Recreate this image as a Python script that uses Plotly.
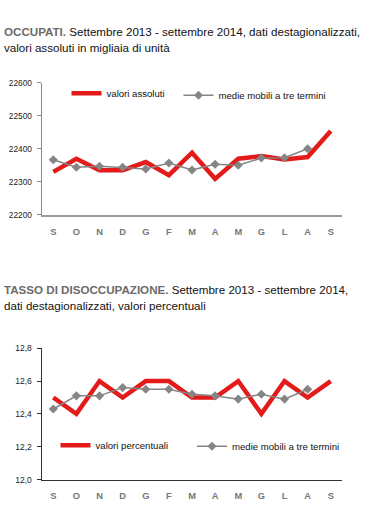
import plotly.graph_objects as go

W, H = 368, 515

months = ["S", "O", "N", "D", "G", "F", "M", "A", "M", "G", "L", "A", "S"]
idx = list(range(len(months)))

# Occupati (migliaia)
occ_valori = [22330, 22370, 22335, 22335, 22360, 22320, 22388, 22309, 22370, 22378, 22368, 22375, 22454]
occ_medie = [22367, 22344, 22347, 22344, 22339, 22357, 22336, 22353, 22350, 22372, 22373, 22400]
occ_ticks = [22200, 22300, 22400, 22500, 22600]
occ_ticktext = ["22200", "22300", "22400", "22500", "22600"]

# Tasso di disoccupazione (%)
dis_valori = [12.5, 12.4, 12.6, 12.5, 12.6, 12.6, 12.5, 12.5, 12.6, 12.4, 12.6, 12.5, 12.6]
dis_medie = [12.43, 12.51, 12.51, 12.56, 12.55, 12.55, 12.52, 12.51, 12.49, 12.52, 12.49, 12.55]
dis_ticks = [12.0, 12.2, 12.4, 12.6, 12.8]
dis_ticktext = ["12,0", "12,2", "12,4", "12,6", "12,8"]

RED = "#e31b1b"
GREY = "#858585"
TXT_FONT = "Liberation Sans, Arial, sans-serif"
SMALL_FONT = "Liberation Sans, Arial, sans-serif"


def px_x(p):
    return p / W


def px_y(p):
    return 1 - p / H


fig = go.Figure()

fig.add_trace(go.Scatter(x=idx, y=occ_valori, mode="lines", name="valori assoluti",
                         line=dict(color=RED, width=4.5), xaxis="x", yaxis="y", legend="legend"))
fig.add_trace(go.Scatter(x=idx[:len(occ_medie)], y=occ_medie, mode="lines+markers",
                         name="medie mobili a tre termini",
                         line=dict(color=GREY, width=1.5),
                         marker=dict(symbol="diamond", size=7, color=GREY),
                         xaxis="x", yaxis="y", legend="legend2"))
fig.add_trace(go.Scatter(x=idx, y=dis_valori, mode="lines", name="valori percentuali",
                         line=dict(color=RED, width=4.5), xaxis="x2", yaxis="y2", legend="legend3"))
fig.add_trace(go.Scatter(x=idx[:len(dis_medie)], y=dis_medie, mode="lines+markers",
                         name="medie mobili a tre termini",
                         line=dict(color=GREY, width=1.5),
                         marker=dict(symbol="diamond", size=7, color=GREY),
                         xaxis="x2", yaxis="y2", legend="legend4"))

xdom = [px_x(41.7), px_x(342.3)]

xcommon = dict(domain=xdom, range=[-0.5, 12.5], tickmode="array", tickvals=idx, ticktext=months,
               showline=True, ticks="", showgrid=False, zeroline=False,
               tickfont=dict(family=SMALL_FONT, size=9.3, color="#777777", weight="bold"),
               ticklabelstandoff=7, fixedrange=True)

leg_font = dict(family=SMALL_FONT, size=9.6, color="#111111")

fig.update_layout(
    width=W, height=H,
    margin=dict(l=0, r=0, t=0, b=0),
    paper_bgcolor="white", plot_bgcolor="white",
    xaxis=dict(**xcommon, anchor="y", linecolor="#9a9a9a", linewidth=2),
    yaxis=dict(domain=[px_y(214), px_y(79.3)], range=[22200, 22600], tickmode="array",
               tickvals=occ_ticks, ticktext=occ_ticktext, showline=True, linecolor="#8a8a8a",
               linewidth=1.3, ticks="outside", ticklen=4, tickcolor="#8a8a8a", showgrid=False,
               zeroline=False, tickfont=dict(family=SMALL_FONT, size=8.3, color="#222222"),
               anchor="x", ticklabelstandoff=3, fixedrange=True),
    xaxis2=dict(**xcommon, anchor="y2", linecolor="#333333", linewidth=1.3),
    yaxis2=dict(domain=[px_y(484), px_y(350)], range=[12.0, 12.8], tickmode="array",
                tickvals=dis_ticks, ticktext=dis_ticktext, showline=True, linecolor="#333333",
                linewidth=1.3, ticks="outside", ticklen=4, tickcolor="#333333", showgrid=False,
                zeroline=False, tickfont=dict(family=SMALL_FONT, size=8.5, color="#222222"),
                anchor="x2", ticklabelstandoff=3, fixedrange=True),
    legend=dict(x=px_x(66.5), y=px_y(90), xanchor="left", yanchor="middle",
                font=leg_font, bgcolor="rgba(0,0,0,0)"),
    legend2=dict(x=px_x(178.5), y=px_y(92), xanchor="left", yanchor="middle",
                 font=leg_font, bgcolor="rgba(0,0,0,0)"),
    legend3=dict(x=px_x(55.5), y=px_y(449), xanchor="left", yanchor="middle",
                 font=leg_font, bgcolor="rgba(0,0,0,0)"),
    legend4=dict(x=px_x(192), y=px_y(450), xanchor="left", yanchor="middle",
                 font=leg_font, bgcolor="rgba(0,0,0,0)"),
    showlegend=True,
)

title_font = dict(family=TXT_FONT, size=11.6, color="#111111")
anns = [
    ("<span style='color:#6b6b6b'><b>OCCUPATI.</b></span> Settembre 2013 - settembre 2014, dati destagionalizzati,", 27),
    ("valori assoluti in migliaia di unità", 43),
    ("<span style='color:#6b6b6b'><b>TASSO DI DISOCCUPAZIONE.</b></span> Settembre 2013 - settembre 2014,", 290),
    ("dati destagionalizzati, valori percentuali", 306),
]
for text, ypx in anns:
    fig.add_annotation(text=text, x=px_x(2), y=px_y(ypx), xref="paper", yref="paper",
                       xanchor="left", yanchor="middle", showarrow=False, font=title_font, align="left")

fig.write_html("out.html", config={"displayModeBar": False},
               post_script="document.body.style.margin='0';")
